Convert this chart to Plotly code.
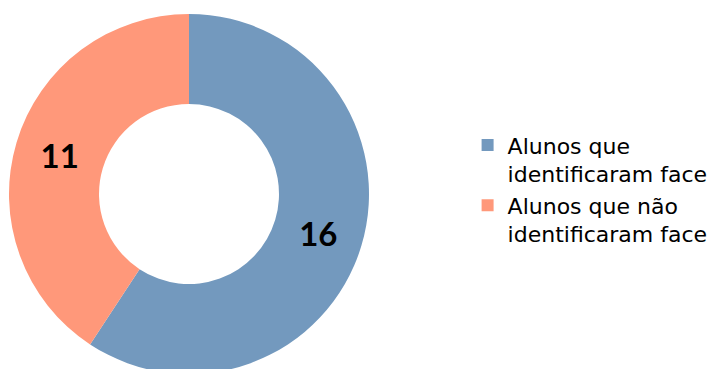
import plotly.graph_objects as go

categories = ["Alunos que<br>identificaram face", "Alunos que não<br>identificaram face"]
values = [16, 11]
colors = ["#7399be", "#ff987a"]

W, H = 712, 366  # page body adds an 8px offset

fig = go.Figure(
    go.Pie(
        labels=categories,
        values=values,
        hole=0.5,
        sort=False,
        direction="clockwise",
        rotation=0,
        marker=dict(colors=colors, line=dict(width=0)),
        textinfo="value",
        textposition="inside",
        insidetextorientation="horizontal",
        textfont=dict(family="Lato", size=33, color="black", weight="bold"),
        domain=dict(x=[1 / W, 361 / W], y=[0, 1]),
        hoverinfo="skip",
    )
)

fig.update_layout(
    width=W,
    height=H,
    margin=dict(l=0, r=0, t=6, b=0),
    paper_bgcolor="white",
    plot_bgcolor="white",
    showlegend=True,
    legend=dict(
        x=0.6455,
        y=0.694,
        xanchor="left",
        yanchor="top",
        valign="top",
        font=dict(family="DejaVu Sans", size=22, color="black"),
        itemclick=False,
    ),
)

fig.write_html("out.html")
